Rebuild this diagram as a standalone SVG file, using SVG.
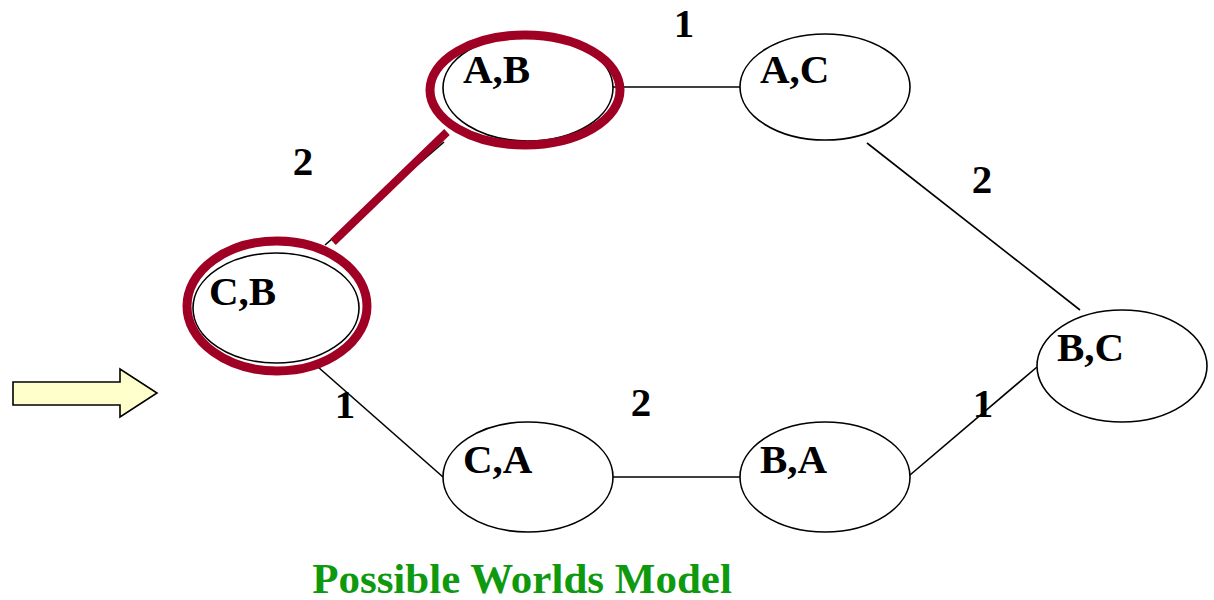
<svg xmlns="http://www.w3.org/2000/svg" width="1214" height="600" viewBox="0 0 1214 600">
<style>
.node{fill:#fff;stroke:#000;stroke-width:1.6}
.edge{stroke:#000;stroke-width:1.6;fill:none}
.lbl{font-family:"Liberation Serif",serif;font-weight:bold;font-size:41px;fill:#000}
.el{font-family:"Liberation Serif",serif;font-weight:bold;font-size:41px;fill:#000;text-anchor:middle}
.hl{fill:none;stroke:#a00024;stroke-width:9}
</style>
<rect width="1214" height="600" fill="#fff"/>
<g id="connectors">
<line class="edge" x1="613" y1="87" x2="740" y2="87"/>
<line class="edge" x1="867" y1="143" x2="1080" y2="310"/>
<line class="edge" x1="1037" y1="367" x2="910" y2="475"/>
<line class="edge" x1="613" y1="477" x2="740" y2="477"/>
<line class="edge" x1="318" y1="367" x2="443" y2="477"/>
<line class="edge" x1="444" y1="142" x2="325" y2="245"/>
</g>
<g id="node-AB"><ellipse class="node" cx="528" cy="88" rx="85" ry="53"/><text class="lbl" x="463" y="83">A,B</text></g>
<g id="node-AC"><ellipse class="node" cx="825" cy="87" rx="85" ry="53"/><text class="lbl" x="760" y="83">A,C</text></g>
<g id="node-CB"><ellipse class="node" cx="276" cy="308" rx="83" ry="55"/><text class="lbl" x="209" y="305">C,B</text></g>
<g id="node-BC"><ellipse class="node" cx="1122" cy="366" rx="85" ry="56"/><text class="lbl" x="1057" y="361">B,C</text></g>
<g id="node-CA"><ellipse class="node" cx="528" cy="477" rx="85" ry="55"/><text class="lbl" x="463" y="473">C,A</text></g>
<g id="node-BA"><ellipse class="node" cx="825" cy="477" rx="85" ry="55"/><text class="lbl" x="760" y="473">B,A</text></g>
<g id="edge-labels">
<text class="el" x="684" y="37">1</text>
<text class="el" x="303" y="175">2</text>
<text class="el" x="982" y="193">2</text>
<text class="el" x="345" y="418">1</text>
<text class="el" x="641" y="416">2</text>
<text class="el" x="983" y="417">1</text>
</g>
<g id="highlight">
<ellipse class="hl" cx="525" cy="90" rx="95" ry="55"/>
<ellipse class="hl" cx="277" cy="306" rx="90" ry="65"/>
<line x1="447" y1="132" x2="333" y2="242" stroke="#a00024" stroke-width="8"/>
</g>
<g id="pointer-arrow">
<path d="M13,382 L120,382 L120,369 L157,393 L120,417 L120,405 L13,405 Z" fill="#ffffcc" stroke="#000" stroke-width="1.6"/>
</g>
<text x="522" y="593" text-anchor="middle" font-family="Liberation Serif, serif" font-weight="bold" font-size="43" fill="#0f990f">Possible Worlds Model</text>
</svg>
